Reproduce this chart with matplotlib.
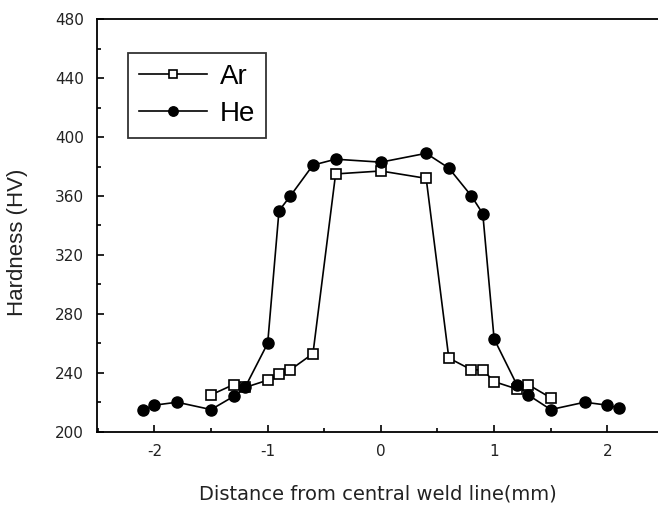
import matplotlib
matplotlib.use("Agg")
import matplotlib.pyplot as plt
from matplotlib.ticker import MultipleLocator

ar_x = [-1.5, -1.3, -1.2, -1.0, -0.9, -0.8, -0.6, -0.4, 0.0, 0.4, 0.6, 0.8, 0.9, 1.0, 1.2, 1.3, 1.5]
ar_y = [225, 232, 230, 235, 239, 242, 253, 375, 377, 372, 250, 242, 242, 234, 229, 232, 223]

he_x = [-2.1, -2.0, -1.8, -1.5, -1.3, -1.2, -1.0, -0.9, -0.8, -0.6, -0.4, 0.0,
        0.4, 0.6, 0.8, 0.9, 1.0, 1.2, 1.3, 1.5, 1.8, 2.0, 2.1]
he_y = [215, 218, 220, 215, 224, 230, 260, 350, 360, 381, 385, 383,
        389, 379, 360, 348, 263, 232, 225, 215, 220, 218, 216]

plt.rcParams['font.family'] = ['Liberation Sans', 'DejaVu Sans']
plt.rcParams['axes.unicode_minus'] = False

fig = plt.figure(figsize=(6.58, 5.05), dpi=100)
ax = fig.add_axes([0.147, 0.1452, 0.862, 0.8166])

ax.plot(ar_x, ar_y, color='black', lw=1.2, marker='s', ms=7.5,
        mfc='white', mec='black', mew=1.2, label='Ar')
ax.plot(he_x, he_y, color='black', lw=1.2, marker='o', ms=8,
        mfc='black', mec='black', label='He')

ax.set_xlim(-2.51, 2.5)
ax.set_ylim(200, 480)
ax.xaxis.set_major_locator(MultipleLocator(1))
ax.xaxis.set_minor_locator(MultipleLocator(0.5))
ax.yaxis.set_major_locator(MultipleLocator(40))
ax.yaxis.set_minor_locator(MultipleLocator(20))
ax.tick_params(which='both', direction='in', top=False, right=False, width=1.2)
ax.tick_params(which='major', length=5, labelsize=11, pad=9)
ax.tick_params(which='minor', length=3)
for lab in ax.get_xticklabels() + ax.get_yticklabels():
    lab.set_family('DejaVu Sans')
    lab.set_color('#222222')
for s in ['left', 'bottom', 'top']:
    ax.spines[s].set_linewidth(1.3)
ax.spines['right'].set_visible(False)

ax.set_xlabel('Distance from central weld line(mm)', fontsize=14,
              family='DejaVu Sans', color='#222222')
ax.xaxis.set_label_coords(0.495, -0.127)
ax.set_ylabel('Hardness (HV)', fontsize=16, color='#222222')
ax.yaxis.set_label_coords(-0.121, 0.458)

leg = ax.legend(loc='upper left', bbox_to_anchor=(0.055, 0.918), fontsize=20,
                frameon=True, fancybox=False, edgecolor='black',
                handlelength=2.45, handletextpad=0.45, borderpad=0.4,
                labelspacing=0.38, borderaxespad=0, markerscale=0.85)
leg.get_frame().set_linewidth(1.3)

fig.savefig('out.png', dpi=100)
